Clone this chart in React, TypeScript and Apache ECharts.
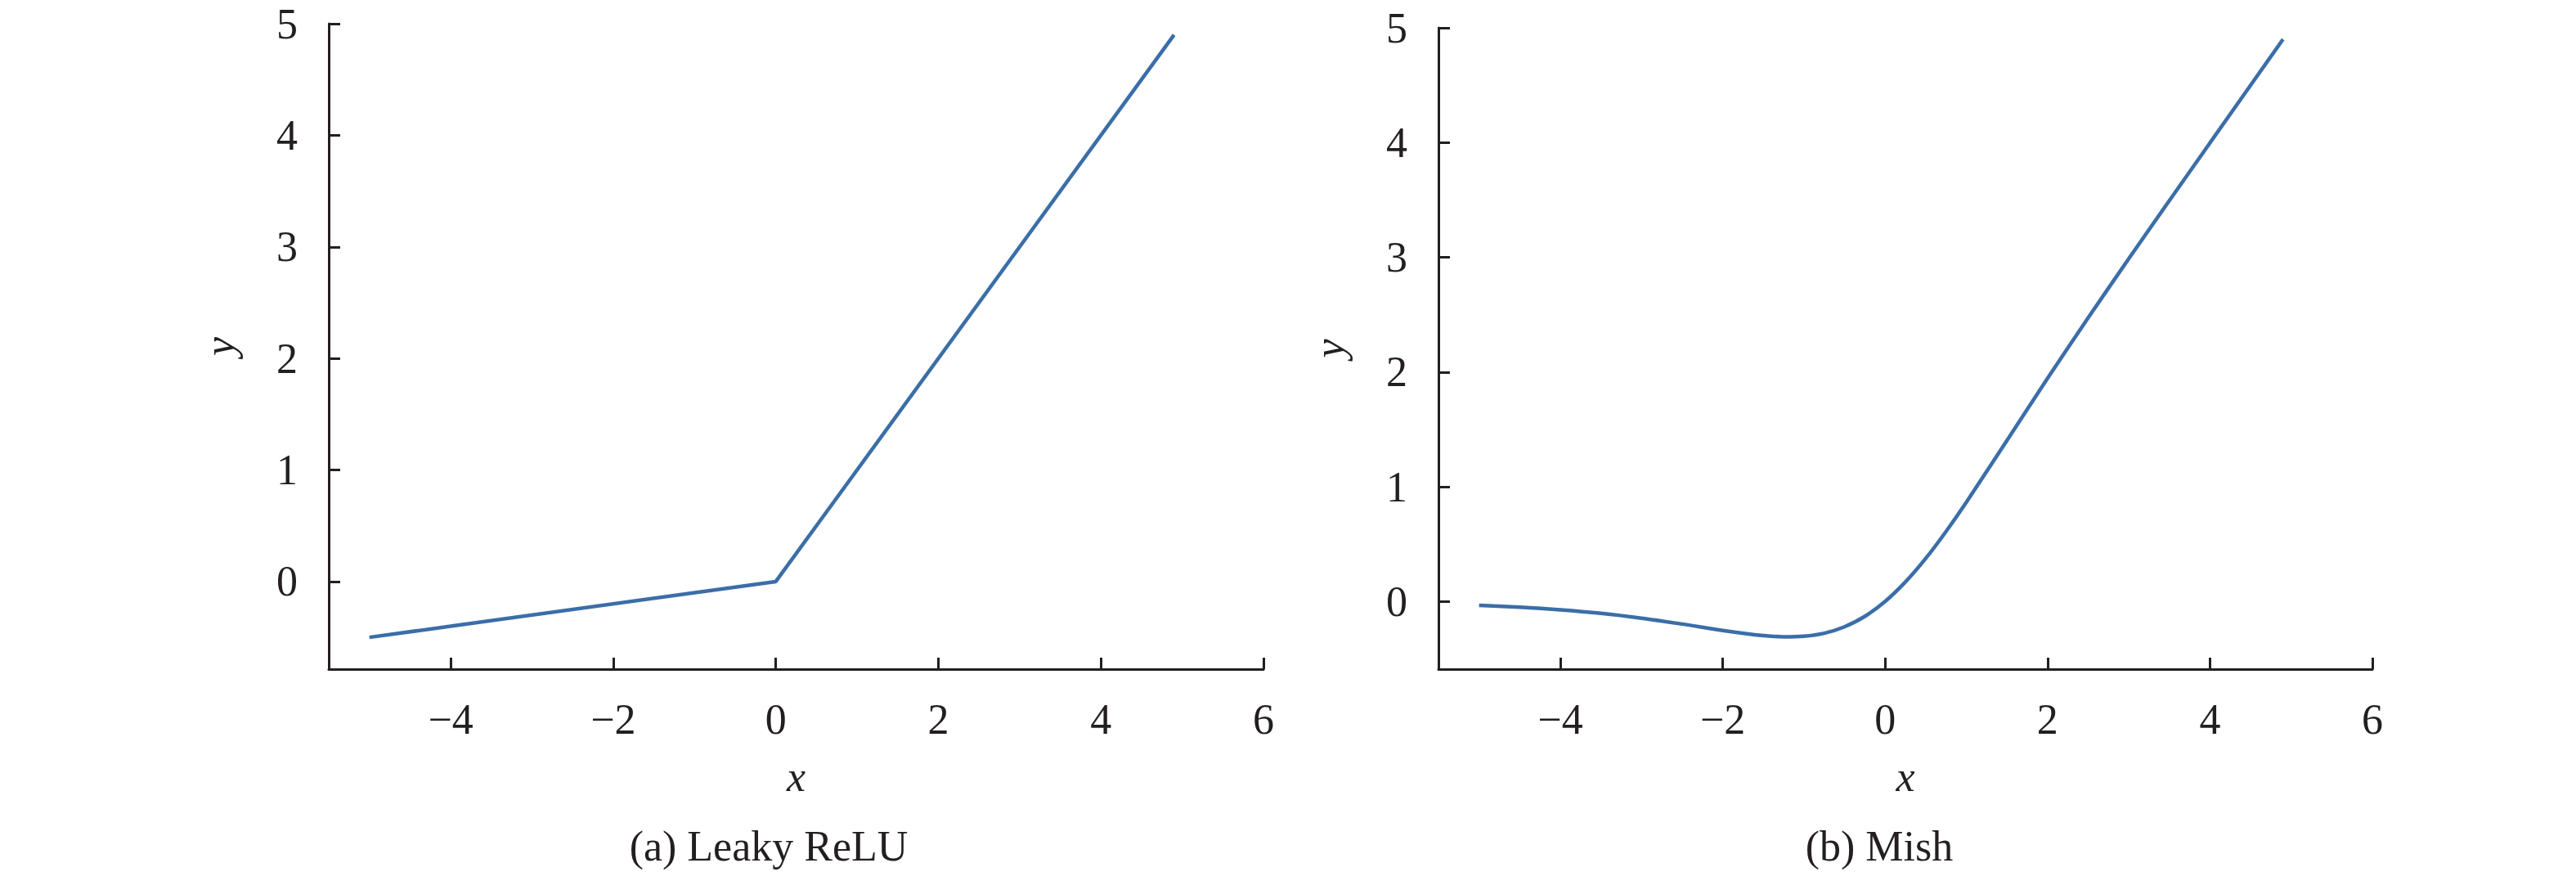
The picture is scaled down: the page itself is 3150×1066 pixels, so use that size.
import React, { useEffect, useRef } from "react";
import * as echarts from "echarts";

// Leaky ReLU curve points (x, y)
const leakyX = [-5, 0, 4.9];
const leakyY = [-0.5, 0, 4.9];

// Mish curve points (x, y)
const mishX = [-5, -4.5, -4, -3.5, -3, -2.5, -2, -1.5, -1.25, -1, -0.75, -0.5, -0.25, 0, 0.25, 0.5, 0.75, 1, 1.5, 2, 2.5, 3, 3.5, 4, 4.5, 4.9];
const mishY = [-0.034, -0.05, -0.073, -0.104, -0.146, -0.197, -0.253, -0.298, -0.308, -0.303, -0.277, -0.221, -0.13, 0, 0.17, 0.375, 0.61, 0.865, 1.403, 1.944, 2.472, 2.987, 3.494, 3.997, 4.499, 4.9];

const xTicks = [-4, -2, 0, 2, 4, 6];
const yTicks = [0, 1, 2, 3, 4, 5];
const captions = ["(a) Leaky ReLU", "(b) Mish"];

const FONT = '"Liberation Serif", "Times New Roman", serif';
const INK = "#231f20";
const LINE = "#3b6ea8";

const fmt = (v: number) => (v < 0 ? "\u2212" + Math.abs(v) : String(v));

export default function App() {
  const ref = useRef<HTMLDivElement>(null);
  useEffect(() => {
    if (!ref.current) return;
    const chart = echarts.init(ref.current, null, { renderer: "svg" });
    const axisCommon = {
      axisLine: { show: true, onZero: false, lineStyle: { color: INK, width: 3 } },
      axisTick: { show: true, inside: true, length: 14, lineStyle: { color: INK, width: 3 } },
      splitLine: { show: false },
    };
    const makeX = (gi: number) => ({
      type: "value",
      gridIndex: gi,
      min: -5.5,
      max: 6,
      ...axisCommon,
      axisTick: { ...axisCommon.axisTick, customValues: xTicks },
      axisLabel: {
        customValues: xTicks,
        formatter: fmt,
        margin: 35,
        color: INK,
        fontFamily: FONT,
        fontSize: 52,
      },
      name: "x",
      nameLocation: "middle",
      nameGap: 105,
      nameTextStyle: { fontFamily: FONT, fontSize: 52, fontStyle: "italic", color: INK },
    });
    const makeY = (gi: number, min: number) => ({
      type: "value",
      gridIndex: gi,
      min,
      max: 5,
      ...axisCommon,
      axisTick: { ...axisCommon.axisTick, customValues: yTicks },
      axisLabel: {
        customValues: yTicks,
        formatter: fmt,
        margin: 38,
        color: INK,
        fontFamily: FONT,
        fontSize: 52,
      },
      name: "y",
      nameLocation: "middle",
      nameRotate: 90,
      nameGap: 108,
      nameTextStyle: { fontFamily: FONT, fontSize: 52, fontStyle: "italic", color: INK },
    });
    chart.setOption({
      animation: false,
      backgroundColor: "#ffffff",
      grid: [
        { left: 402, top: 29, width: 1143, height: 789 },
        { left: 1759, top: 34, width: 1142, height: 784 },
      ],
      xAxis: [makeX(0), makeX(1)],
      yAxis: [makeY(0, -0.785), makeY(1, -0.59)],
      series: [
        {
          type: "line",
          xAxisIndex: 0,
          yAxisIndex: 0,
          data: leakyX.map((x, i) => [x, leakyY[i]]),
          showSymbol: false,
          lineStyle: { color: LINE, width: 4.5 },
        },
        {
          type: "line",
          xAxisIndex: 1,
          yAxisIndex: 1,
          data: mishX.map((x, i) => [x, mishY[i]]),
          showSymbol: false,
          smooth: 0.3,
          lineStyle: { color: LINE, width: 4.5 },
        },
      ],
      graphic: [
        {
          type: "text",
          x: 940,
          y: 1034,
          style: { text: captions[0], fontFamily: FONT, fontSize: 52, fill: INK, textAlign: "center", textVerticalAlign: "middle" },
        },
        {
          type: "text",
          x: 2298,
          y: 1034,
          style: { text: captions[1], fontFamily: FONT, fontSize: 52, fill: INK, textAlign: "center", textVerticalAlign: "middle" },
        },
      ],
    });
    return () => chart.dispose();
  }, []);
  return (
    <div
      ref={ref}
      style={{ position: "absolute", left: 0, top: 0, width: 3150, height: 1066 }}
    />
  );
}
